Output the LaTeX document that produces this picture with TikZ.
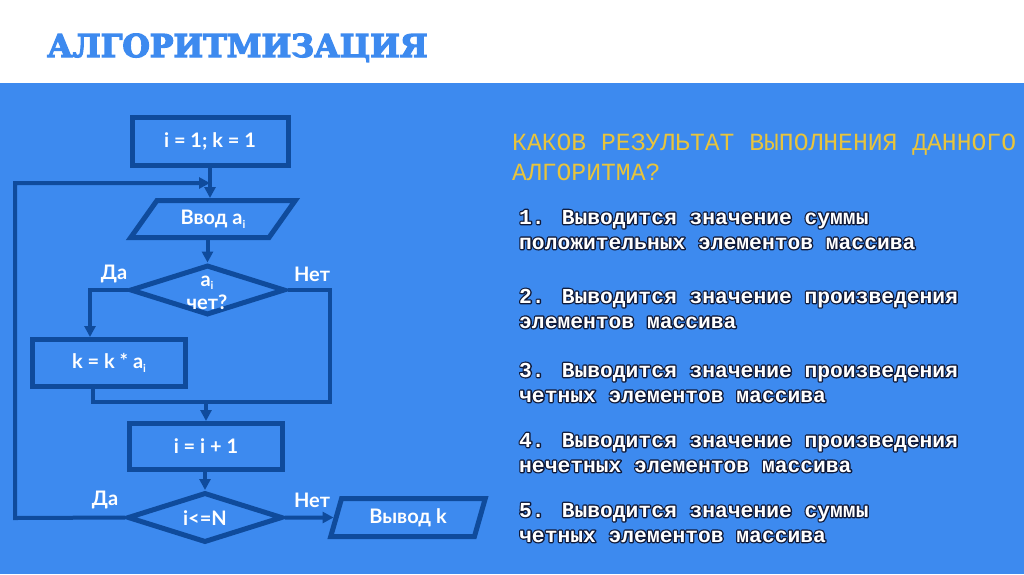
\documentclass[tikz,border=0pt]{standalone}
\usepackage{fontspec}
\setmainfont{Lato}
\newfontfamily\monofont{Liberation Mono}
\newfontfamily\titlefont{DejaVu Serif}
\usetikzlibrary{shapes.geometric,arrows.meta,calc}
\definecolor{bg}{HTML}{3D8AEF}
\definecolor{dk}{HTML}{0F4B9C}
\definecolor{yel}{HTML}{E8C43C}
\newcommand\strk[3]{\special{pdf:literal direct 2 Tr #2 w #3 RG}#1\special{pdf:literal direct 0 Tr}}
\newcommand\subi{\raisebox{-0.35ex}{\fontsize{11}{11}\selectfont i}}
\newcommand\ans[1]{\rlap{\special{pdf:literal direct 1 Tr 2.6 w 0.06 0.10 0.22 RG 1 j}#1\special{pdf:literal direct 0 Tr}}#1}
\tikzset{
  flowtxt/.style={text=white, font=\fontsize{20}{22}\selectfont\bfseries},
  procbox/.style={flowtxt, draw=dk, line width=5pt, rectangle, inner sep=0pt},
  iobox/.style={flowtxt, draw=dk, line width=5pt, trapezium, trapezium stretches=true, inner sep=0pt},
  decbox/.style={draw=dk, line width=5pt, diamond, inner sep=0pt},
  conn/.style={draw=dk, line width=4pt},
  arr/.style={conn, -{Triangle[length=11pt,width=11pt]}},
  lbl/.style={flowtxt},
  qtxt/.style={text=yel, font=\monofont\fontsize{24.7}{30}\selectfont, anchor=base west, inner sep=0pt},
  atxt/.style={text=white, font=\monofont\bfseries\fontsize{21.3}{25}\selectfont, anchor=base west, inner sep=0pt},
}
\begin{document}
\begin{tikzpicture}[x=1pt,y=-1pt]
\useasboundingbox (0,0) rectangle (1024,574);
\begin{scope}
\clip (0,0) rectangle (1024,574);
\fill[white] (0,0) rectangle (1024,83);
\fill[bg] (0,83) rectangle (1024,574);

% title
\node[text=bg, font=\titlefont\bfseries\fontsize{31.5}{40}\selectfont, anchor=base west, inner sep=0pt] (title) at (47,57) {\strk{АЛГОРИТМИЗАЦИЯ}{1.2}{0.24 0.54 0.94}};

% flowchart
\node[procbox, minimum width=156, minimum height=48] (b1) at (210,141.5) {i = 1; k = 1};
\node[iobox, trapezium left angle=50, trapezium right angle=130, minimum width=165, minimum height=37] (p1) at (213,219) {Ввод a\subi};
\node[decbox, minimum width=155, minimum height=50] (d1) at (207.5,290) {};
\node[flowtxt, anchor=base] (d1a) at (207,286) {a\subi};
\node[flowtxt, anchor=base] (d1b) at (207,309) {чет?};
\node[procbox, minimum width=153, minimum height=47] (b2) at (109,363) {k = k * a\subi};
\node[procbox, minimum width=153, minimum height=46] (b3) at (206,446.5) {i = i + 1};
\node[decbox, minimum width=155, minimum height=50] (d2) at (205,517.5) {};
\node[flowtxt] (d2t) at (205,518) {i<=N};
\node[iobox, trapezium left angle=71, trapezium right angle=109, minimum width=155, minimum height=38] (p2) at (408,517.5) {Вывод k};

\node[lbl] (l1) at (114,274) {Да};
\node[lbl] (l2) at (312,274) {Нет};
\node[lbl] (l3) at (105,500) {Да};
\node[lbl] (l4) at (312,500) {Нет};

\coordinate (lp1) at (15,518);
\coordinate (lp2) at (15,183);
\coordinate (lpe) at (210,183);
\coordinate (mr) at (330,402);
\coordinate (ml) at (93,402);

\draw[arr] (b1.south) -- (b1.south |- p1.north);
\draw[arr] (d2.west) -- (lp1) -- (lp2) -- (lpe);
\draw[arr] (p1.south -| d1.north) -- (d1.north);
\draw[arr] (d1.west) -| ([xshift=-19pt]b2.north);
\draw[conn] (d1.east) -| (mr) -- (ml) -- (ml |- b2.south);
\draw[arr] (b3.north |- mr) -- (b3.north);
\draw[arr] (b3.south -| d2.north) -- (d2.north);
\draw[arr] (d2.east) -- (p2.west);

% question
\node[qtxt] (q1) at (512,150) {КАКОВ РЕЗУЛЬТАТ ВЫПОЛНЕНИЯ ДАННОГО};
\node[qtxt] (q2) at (512,180) {АЛГОРИТМА?};

% answers
\node[atxt] (a1a) at (519,224) {\ans{1. Выводится значение суммы}};
\node[atxt] (a1b) at (519,249) {\ans{положительных элементов массива}};
\node[atxt] (a2a) at (519,303) {\ans{2. Выводится значение произведения}};
\node[atxt] (a2b) at (519,328) {\ans{элементов массива}};
\node[atxt] (a3a) at (519,377) {\ans{3. Выводится значение произведения}};
\node[atxt] (a3b) at (519,402) {\ans{четных элементов массива}};
\node[atxt] (a4a) at (519,447) {\ans{4. Выводится значение произведения}};
\node[atxt] (a4b) at (519,472) {\ans{нечетных элементов массива}};
\node[atxt] (a5a) at (519,517) {\ans{5. Выводится значение суммы}};
\node[atxt] (a5b) at (519,542) {\ans{четных элементов массива}};
\end{scope}
\end{tikzpicture}
\end{document}
